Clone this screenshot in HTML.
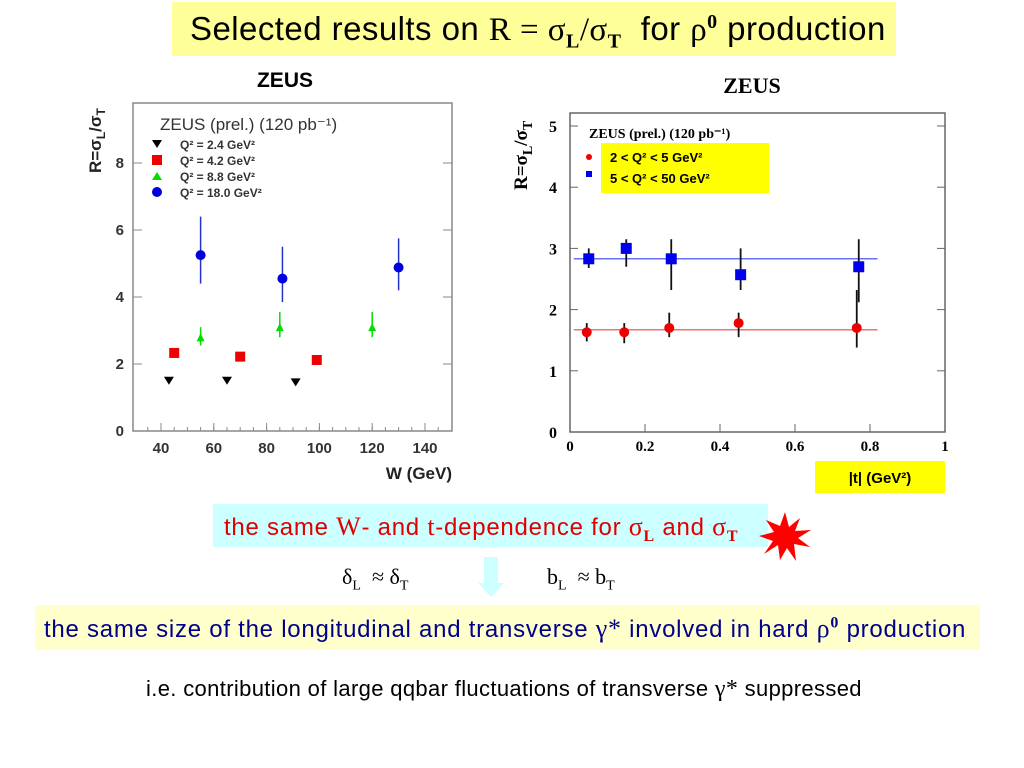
<!DOCTYPE html>
<html><head><meta charset="utf-8"><style>
body{margin:0;width:1024px;height:768px;background:#fff;position:relative;overflow:hidden;font-family:"Liberation Sans",sans-serif}
.abs{position:absolute}
.ser{font-family:"Liberation Serif",serif}
</style></head><body>
<div class="abs" style="left:172px;top:2px;width:724px;height:54px;background:#ffff99"></div>
<div class="abs" style="left:190px;top:10px;font-size:33px;white-space:nowrap;letter-spacing:0.45px">Selected results on <span class="ser">R = σ<sub style="font-size:20px;font-weight:bold">L</sub>/σ<sub style="font-size:20px;font-weight:bold">T</sub></span> &nbsp;for <span class="ser">ρ<sup style="font-size:20px;font-weight:bold">0</sup></span> production</div>

<svg class="abs" style="left:0;top:0" width="1024" height="500" id="svg"></svg>

<div class="abs" style="left:213px;top:504px;width:555px;height:43px;background:#ccffff"></div>
<div class="abs" style="left:224px;top:512px;font-size:24px;color:#e00000;white-space:nowrap;letter-spacing:0.75px">the same <span class="ser" style="font-size:26px">W</span>- and <span class="ser" style="font-size:26px">t</span>-dependence for <span class="ser" style="font-size:26px">σ<sub style="font-size:16px;font-weight:bold">L</sub></span> and <span class="ser" style="font-size:26px">σ<sub style="font-size:16px;font-weight:bold">T</sub></span></div>
<svg class="abs" style="left:758px;top:512px" width="54" height="50"><polygon fill="#ff0000" points="27,0 31,15 42,6 37,19 53,18 40,26 52,35 36,32 38,49 29,36 22,48 20,33 6,42 15,29 1,24 16,20 8,8 22,14"/></svg>
<div class="abs" style="left:342px;top:564px;font-size:22px;white-space:nowrap"><span class="ser">δ<sub style="font-size:14px">L</sub> &nbsp;≈ δ<sub style="font-size:14px">T</sub></span></div>
<div class="abs" style="left:547px;top:564px;font-size:22px;white-space:nowrap"><span class="ser">b<sub style="font-size:14px">L</sub> &nbsp;≈ b<sub style="font-size:14px">T</sub></span></div>
<svg class="abs" style="left:478px;top:557px" width="26" height="40"><polygon fill="#ccffff" points="6,0 20,0 20,26 26,26 13,40 0,26 6,26"/></svg>
<div class="abs" style="left:35px;top:605px;width:945px;height:45px;background:#ffffcc"></div>
<div class="abs" style="left:44px;top:614px;font-size:24px;color:#00008b;white-space:nowrap;letter-spacing:0.75px">the same size of the longitudinal and transverse <span class="ser" style="font-size:26px">γ*</span> involved in hard <span class="ser" style="font-size:26px">ρ<sup style="font-size:16px;font-weight:bold">0</sup></span> production</div>
<div class="abs" style="left:146px;top:676px;font-size:22px;white-space:nowrap;letter-spacing:0.35px">i.e. contribution of large qqbar fluctuations of transverse <span class="ser" style="font-size:24px">γ*</span> suppressed</div>

<script>
// Left chart data
const leftQ2Labels=["Q² = 2.4 GeV²","Q² = 4.2 GeV²","Q² = 8.8 GeV²","Q² = 18.0 GeV²"];
const blackW=[43,65,91], blackR=[1.5,1.5,1.45];
const redW=[45,70,99], redR=[2.33,2.22,2.12];
const greenW=[55,85,120], greenR=[2.8,3.1,3.1], greenLo=[2.55,2.8,2.8], greenHi=[3.1,3.55,3.55];
const blueW=[55,86,130], blueR=[5.25,4.55,4.88], blueLo=[4.4,3.85,4.2], blueHi=[6.4,5.5,5.75];
const leftXTicks=[40,60,80,100,120,140], leftYTicks=[0,2,4,6,8];
// Right chart data
const tVals=[0.05,0.15,0.27,0.455,0.77];
const tBlueR=[2.83,3.0,2.83,2.57,2.7], tBlueLo=[2.68,2.7,2.32,2.32,2.12], tBlueHi=[3.0,3.15,3.15,3.0,3.15];
const tRedR=[1.63,1.63,1.7,1.78,1.7], tRedLo=[1.48,1.45,1.55,1.55,1.38], tRedHi=[1.78,1.78,1.95,1.95,2.32];
const fitBlue=[2.83], fitRed=[1.67], fitRange=[0.01,0.82];
const rightXTicks=[0,0.2,0.4,0.6,0.8,1], rightYTicks=[0,1,2,3,4,5];

const svg=document.getElementById('svg');const NS='http://www.w3.org/2000/svg';
function el(t,a,name,txt){const e=document.createElementNS(NS,t);for(const k in a)e.setAttribute(k,a[k]);


if(txt!==undefined)e.textContent=txt;svg.appendChild(e);return e;}

// Left axes
const lx=w=>161+(w-40)*2.64, ly=r=>431-r*33.5;
el('rect',{x:133,y:103,width:319,height:328,fill:'none',stroke:'#888','stroke-width':1.5},'left-frame');
el('text',{x:285,y:87,'font-size':21,'font-weight':'bold','text-anchor':'middle','font-family':'Liberation Sans'},'left-chart-title','ZEUS');
leftXTicks.forEach(v=>{el('line',{x1:lx(v),x2:lx(v),y1:431,y2:423,stroke:'#888'},'left-x-tick');
 el('text',{x:lx(v),y:453,'font-size':15,'font-weight':'bold','text-anchor':'middle','fill':'#333'},'left-x-tick-label',v);});
for(let v=35;v<=145;v+=5){el('line',{x1:lx(v),x2:lx(v),y1:431,y2:427,stroke:'#888'},'left-x-minor');}
leftYTicks.forEach(v=>{el('line',{x1:133,x2:142,y1:ly(v),y2:ly(v),stroke:'#888'},'left-y-tick');
 el('line',{x1:443,x2:452,y1:ly(v),y2:ly(v),stroke:'#888'},'left-y-tick-right');
 el('text',{x:124,y:ly(v)+5,'font-size':15,'font-weight':'bold','text-anchor':'end','fill':'#333'},'left-y-tick-label',v);});
el('text',{x:452,y:479,'font-size':17,'font-weight':'bold','text-anchor':'end','fill':'#222'},'left-x-axis-title','W (GeV)');
const ylt=el('text',{x:0,y:0,'font-size':17,'font-weight':'bold','fill':'#222',transform:'translate(101,173) rotate(-90)'},'left-y-axis-title');
ylt.innerHTML='R=σ<tspan dy="4" font-size="12">L</tspan><tspan dy="-4">/σ</tspan><tspan dy="4" font-size="12">T</tspan>';
el('text',{x:160,y:130,'font-size':17,'fill':'#333'},'left-legend-header','ZEUS (prel.) (120 pb⁻¹)');
leftQ2Labels.forEach((s,i)=>{const y=144+i*16;
 el('text',{x:180,y:y+5,'font-size':12,'font-weight':'bold','fill':'#333'},'legend-entry',s);});
el('polygon',{points:'152,140 162,140 157,148',fill:'#000'},'legend-marker-black');
el('rect',{x:152,y:155,width:10,height:10,fill:'#ee0000'},'legend-marker-red');
el('polygon',{points:'152,180 162,180 157,172',fill:'#00dd00'},'legend-marker-green');
el('circle',{cx:157,cy:192,r:5,fill:'#0000dd'},'legend-marker-blue');
blackW.forEach((w,i)=>{const x=lx(w),y=ly(blackR[i]);el('polygon',{points:`${x-5},${y-4} ${x+5},${y-4} ${x},${y+4}`,fill:'#000'},'point-q2-2.4');});
redW.forEach((w,i)=>{el('rect',{x:lx(w)-5,y:ly(redR[i])-5,width:10,height:10,fill:'#ee0000'},'point-q2-4.2');});
greenW.forEach((w,i)=>{const x=lx(w),y=ly(greenR[i]);el('line',{x1:x,x2:x,y1:ly(greenLo[i]),y2:ly(greenHi[i]),stroke:'#00dd00','stroke-width':1.5},'error-q2-8.8');
 el('polygon',{points:`${x-4},${y+4} ${x+4},${y+4} ${x},${y-4}`,fill:'#00dd00'},'point-q2-8.8');});
blueW.forEach((w,i)=>{const x=lx(w);el('line',{x1:x,x2:x,y1:ly(blueLo[i]),y2:ly(blueHi[i]),stroke:'#2233cc','stroke-width':1.5},'error-q2-18');
 el('circle',{cx:x,cy:ly(blueR[i]),r:5,fill:'#0000dd'},'point-q2-18');});

// Right axes
const rx=t=>570+t*375, ry=r=>432-r*61.2;
el('rect',{x:570,y:113,width:375,height:319,fill:'none',stroke:'#666','stroke-width':1.5},'right-frame');
el('text',{x:752,y:93,'font-size':22,'font-weight':'bold','text-anchor':'middle','font-family':'Liberation Serif'},'right-chart-title','ZEUS');
rightXTicks.forEach(v=>{el('line',{x1:rx(v),x2:rx(v),y1:432,y2:424,stroke:'#666'},'right-x-tick');
 el('text',{x:rx(v),y:451,'font-size':15,'font-weight':'bold','text-anchor':'middle','font-family':'Liberation Serif'},'right-x-tick-label',v);});
rightYTicks.forEach(v=>{el('line',{x1:570,x2:578,y1:ry(v),y2:ry(v),stroke:'#666'},'right-y-tick');
 el('line',{x1:937,x2:945,y1:ry(v),y2:ry(v),stroke:'#666'},'right-y-tick-right');
 el('text',{x:557,y:ry(v)+6,'font-size':16,'font-weight':'bold','text-anchor':'end','font-family':'Liberation Serif'},'right-y-tick-label',v);});
el('rect',{x:815,y:461,width:130,height:32,fill:'#ffff00'},'x-title-box');
el('text',{x:880,y:483,'font-size':15,'font-weight':'bold','text-anchor':'middle'},'right-x-axis-title','|t| (GeV²)');
const yrt=el('text',{x:0,y:0,'font-size':19,'font-weight':'bold','font-family':'Liberation Serif',transform:'translate(527,190) rotate(-90)'},'right-y-axis-title');
yrt.innerHTML='R=σ<tspan dy="5" font-size="14">L</tspan><tspan dy="-5">/σ</tspan><tspan dy="5" font-size="14">T</tspan>';
el('text',{x:589,y:138,'font-size':14,'font-weight':'bold','font-family':'Liberation Serif'},'right-legend-header','ZEUS (prel.) (120 pb⁻¹)');
el('rect',{x:601,y:143,width:168,height:50,fill:'#ffff00'},'legend-box');
el('circle',{cx:589,cy:157,r:3,fill:'#ee0000'},'legend-marker-low-q2');
el('rect',{x:586,y:171,width:6,height:6,fill:'#0000ee'},'legend-marker-high-q2');
el('text',{x:610,y:162,'font-size':13,'font-weight':'bold'},'legend-entry','2 < Q² < 5  GeV²');
el('text',{x:610,y:183,'font-size':13,'font-weight':'bold'},'legend-entry','5 < Q² < 50 GeV²');
el('line',{x1:rx(fitRange[0]),x2:rx(fitRange[1]),y1:ry(fitBlue[0]),y2:ry(fitBlue[0]),stroke:'#3344ee','stroke-width':1.2},'fit-line-high-q2');
el('line',{x1:rx(fitRange[0]),x2:rx(fitRange[1]),y1:ry(fitRed[0]),y2:ry(fitRed[0]),stroke:'#ee4444','stroke-width':1.2},'fit-line-low-q2');
tVals.forEach((t,i)=>{const x=rx(t);
 el('line',{x1:x,x2:x,y1:ry(tBlueLo[i]),y2:ry(tBlueHi[i]),stroke:'#111','stroke-width':1.8},'error-high-q2');
 el('line',{x1:x-2,x2:x-2,y1:ry(tRedLo[i]),y2:ry(tRedHi[i]),stroke:'#111','stroke-width':1.8},'error-low-q2');
 el('rect',{x:x-5.5,y:ry(tBlueR[i])-5.5,width:11,height:11,fill:'#0000ee'},'point-high-q2');
 el('circle',{cx:x-2,cy:ry(tRedR[i]),r:5,fill:'#ee0000'},'point-low-q2');});
</script>
</body></html>
